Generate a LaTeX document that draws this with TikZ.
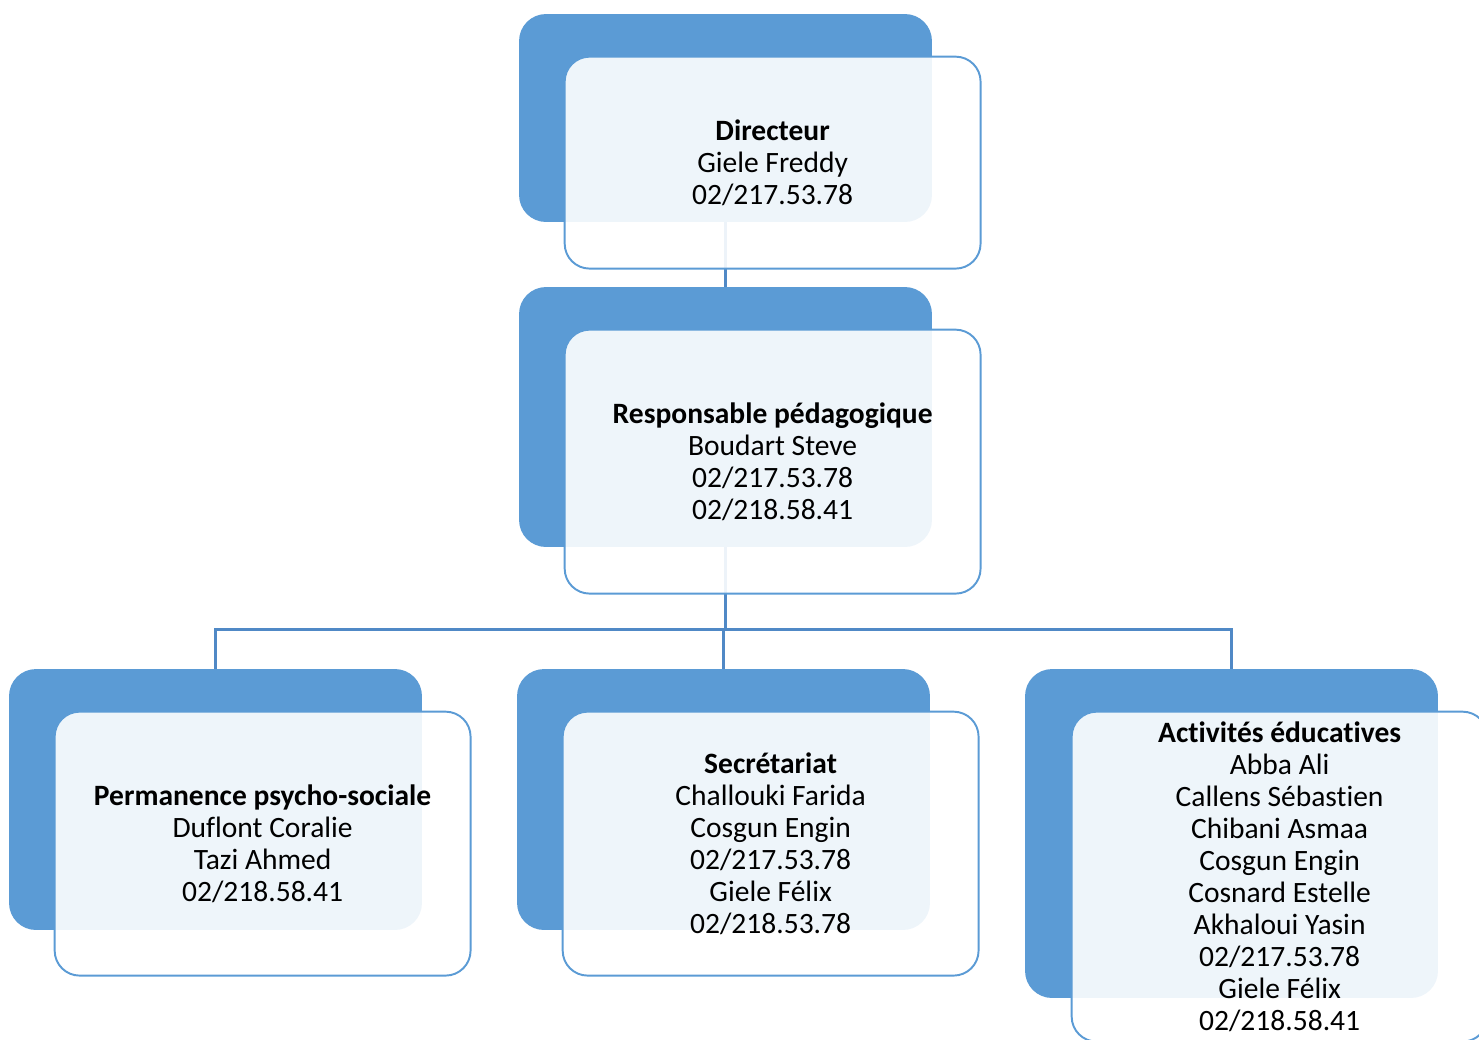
\documentclass[tikz,border=0pt]{standalone}
\usepackage{fontspec}
\setmainfont[Ligatures={NoCommon}]{Carlito}
\usetikzlibrary{calc}
\definecolor{boxblue}{RGB}{91,155,213}
\definecolor{linkblue}{RGB}{80,137,198}
\tikzset{
  backbox/.style={fill=boxblue, rounded corners=0.54cm, minimum width=8.26cm, inner sep=0pt},
  textbox/.style={draw=boxblue, line width=1.1pt, fill=white, fill opacity=0.9, text opacity=1,
    rounded corners=0.5cm, minimum width=8.32cm, inner sep=2pt, anchor=north west, align=center,
    font=\fontsize{16.8}{18.2}\selectfont},
  link/.style={draw=linkblue, line width=1.7pt}
}

\begin{document}
\begin{tikzpicture}[x=0.02cm, y=-0.02cm]
\useasboundingbox (0,0) rectangle (1479,1039);
\clip (0,0) rectangle (1479,1039);

% back boxes
\node[backbox, minimum height=4.16cm] (dir) at (725.5,118) {};
\node[backbox, minimum height=5.2cm] (resp) at (725.5,417) {};
\node[backbox, minimum height=5.22cm] (perm) at (215.5,799.5) {};
\node[backbox, minimum height=5.22cm] (secr) at (723.5,799.5) {};
\node[backbox, minimum height=6.58cm] (activ) at (1231.5,833.5) {};

% connectors
\coordinate (hub) at (resp.south |- 0,629);
\draw[link] (dir.south) -- (resp.north);
\draw[link] (resp.south) -- (hub) -| (perm.north);
\draw[link] (hub) -| (secr.north);
\draw[link] (hub) -| (activ.north);

% text boxes
\node[textbox, minimum height=4.24cm] (dirT) at ($(dir.north west)+(45,42)$)
  {\textbf{Directeur}\\Giele Freddy\\02/217.53.78};
\node[textbox, minimum height=5.28cm] (respT) at ($(resp.north west)+(45,42)$)
  {\textbf{Responsable pédagogique}\\Boudart Steve\\02/217.53.78\\02/218.58.41};
\node[textbox, minimum height=5.28cm] (permT) at ($(perm.north west)+(45,42)$)
  {\textbf{Permanence psycho-sociale}\\Duflont Coralie\\Tazi Ahmed\\02/218.58.41};
\node[textbox, minimum height=5.28cm] (secrT) at ($(secr.north west)+(45,42)$)
  {\textbf{Secrétariat}\\Challouki Farida\\Cosgun Engin\\02/217.53.78\\Giele Félix\\02/218.53.78};
\node[textbox, minimum height=6.6cm] (activT) at ($(activ.north west)+(46,42)$)
  {\textbf{Activités éducatives}\\Abba Ali\\Callens Sébastien\\Chibani Asmaa\\Cosgun Engin\\Cosnard Estelle\\Akhaloui Yasin\\02/217.53.78\\Giele Félix\\02/218.58.41};
\end{tikzpicture}
\end{document}
